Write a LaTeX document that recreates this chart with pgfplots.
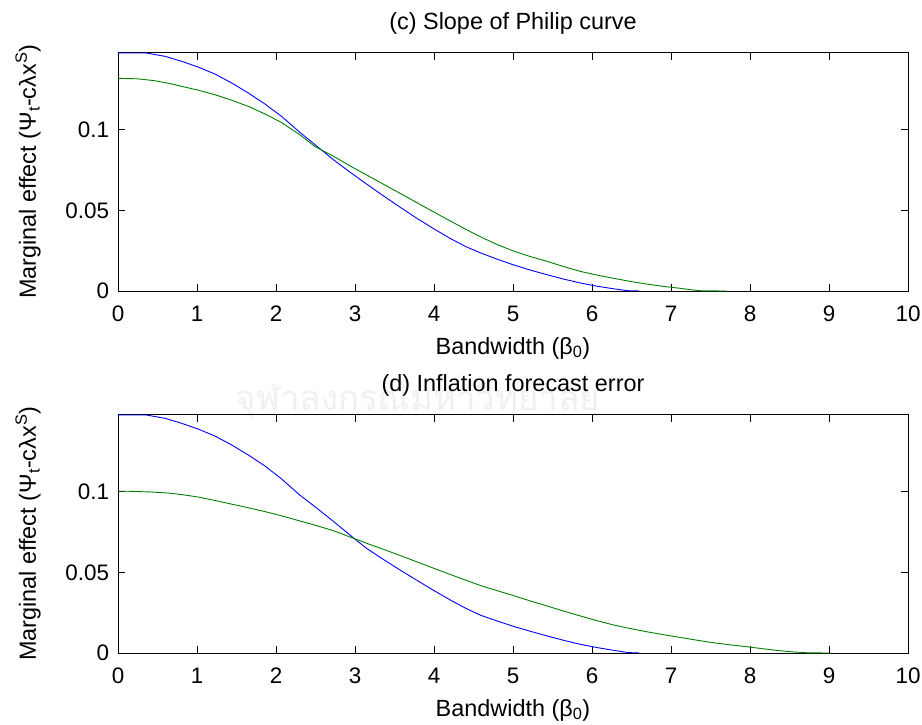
\documentclass[border=0pt]{standalone}
\usepackage{pgfplots}
\pgfplotsset{compat=1.18}
\usepackage{fontspec}
\setmainfont{Liberation Sans}
\newfontfamily\thaifont[Script=Thai]{Loma}
\definecolor{mblue}{RGB}{0,0,255}
\definecolor{mgreen}{RGB}{0,128,0}
\begin{document}
\fontsize{23.5}{28}\selectfont
\begin{tikzpicture}
\path[use as bounding box] (-118bp,-434bp) rectangle (804bp,291bp);
\node[text=black!6, font=\thaifont\fontsize{35}{40}\selectfont, anchor=base] at (300bp,-119bp) {จุฬาลงกรณ์มหาวิทยาลัย};
\pgfplotsset{
  myax/.style={
    scale only axis, width=790bp, height=238.3bp,
    xmin=0, xmax=10, ymin=0, ymax=0.1478,
    xtick={0,1,...,10}, xticklabels={0,1,2,3,4,5,6,7,8,9,10},
    ytick={0,0.05,0.1}, yticklabels={0,0.05,0.1},
    tick align=inside, xtick pos=both, ytick pos=both,
    major tick length=7bp,
    every tick/.style={black, line width=0.8bp},
    axis line style={line width=0.9bp},
    tick label style={font=\fontsize{22.5}{27}\selectfont},
    xticklabel style={anchor=base, yshift=-30bp},
    yticklabel style={anchor=east, xshift=-1bp},
    xlabel={Bandwidth (β\textsubscript{0})},
    xlabel style={at={(axis description cs:0.5,0)}, anchor=base, yshift=-63bp},
    ylabel={Marginal effect (Ψ\textsubscript{t}-cλx\textsuperscript{S})},
    ylabel style={at={(axis description cs:-0.1139,0.5)}, anchor=center},
    title style={at={(axis description cs:0.5,1)}, anchor=base, yshift=17bp},
  }
}
\begin{axis}[myax, at={(0,0)}, anchor=south west, title={(c) Slope of Philip curve}]
\addplot[mblue, line width=0.9bp] coordinates {
(0,0.1476) (0.36,0.1476) (0.6,0.1455) (0.81,0.1424) (1.02,0.1388) (1.23,0.1345) (1.44,0.1290) (1.65,0.1228) (1.86,0.1160) (2.07,0.1083) (2.30,0.0985) (2.50,0.0905) (2.73,0.0813) (2.94,0.0736) (3.15,0.0662) (3.36,0.0590) (3.57,0.0520) (3.78,0.0452) (3.99,0.0388) (4.22,0.0322) (4.40,0.0276) (4.58,0.0238) (4.79,0.0199) (5.0,0.0163) (5.21,0.0131) (5.43,0.0101) (5.64,0.0074) (5.85,0.0050) (6.06,0.0030) (6.27,0.0014) (6.45,0.0002) (6.6,0)
};
\addplot[mgreen, line width=0.9bp] coordinates {
(0,0.1319) (0.25,0.1316) (0.47,0.1304) (0.64,0.1288) (0.81,0.1269) (1.02,0.1245) (1.23,0.1217) (1.44,0.1183) (1.65,0.1145) (1.86,0.1098) (2.07,0.1045) (2.30,0.0970) (2.49,0.0897) (2.73,0.0835) (2.94,0.0775) (3.15,0.0719) (3.36,0.0662) (3.57,0.0606) (3.78,0.0549) (3.99,0.0492) (4.2,0.0436) (4.4,0.0383) (4.58,0.0338) (4.79,0.0290) (5.0,0.0249) (5.21,0.0215) (5.43,0.0184) (5.64,0.0152) (5.85,0.0122) (6.06,0.0099) (6.27,0.0079) (6.48,0.0060) (6.69,0.0043) (6.9,0.0029) (7.11,0.0017) (7.25,0.0008) (7.39,0.0001) (7.7,0)
};
\end{axis}
\begin{axis}[myax, at={(0,-362bp)}, anchor=south west, title={(d) Inflation forecast error}]
\addplot[mblue, line width=0.9bp] coordinates {
(0,0.1476) (0.36,0.1476) (0.6,0.1455) (0.81,0.1424) (1.02,0.1388) (1.23,0.1345) (1.44,0.1290) (1.65,0.1228) (1.86,0.1160) (2.07,0.1080) (2.30,0.0980) (2.50,0.0905) (2.73,0.0815) (3.0,0.0706) (3.15,0.0648) (3.36,0.0580) (3.57,0.0515) (3.78,0.0452) (3.99,0.0390) (4.22,0.0325) (4.40,0.0278) (4.58,0.0236) (4.79,0.0200) (5.0,0.0166) (5.21,0.0136) (5.43,0.0106) (5.64,0.0079) (5.85,0.0054) (6.06,0.0034) (6.27,0.0017) (6.45,0.0003) (6.6,0)
};
\addplot[mgreen, line width=0.9bp] coordinates {
(0,0.1003) (0.14,0.1003) (0.40,0.0999) (0.64,0.0992) (0.83,0.0981) (1.02,0.0967) (1.23,0.0946) (1.44,0.0923) (1.65,0.0901) (1.86,0.0877) (2.07,0.0851) (2.28,0.0822) (2.50,0.0792) (2.73,0.0758) (3.0,0.0708) (3.15,0.0680) (3.36,0.0643) (3.57,0.0605) (3.78,0.0566) (3.99,0.0527) (4.2,0.0488) (4.4,0.0452) (4.58,0.0420) (4.79,0.0388) (5.0,0.0357) (5.21,0.0324) (5.43,0.0292) (5.64,0.0260) (5.85,0.0230) (6.06,0.0201) (6.27,0.0174) (6.48,0.0152) (6.69,0.0132) (6.9,0.0114) (7.11,0.0097) (7.32,0.0080) (7.53,0.0064) (7.74,0.0051) (7.96,0.0039) (8.17,0.0026) (8.38,0.0014) (8.56,0.0006) (8.74,0.0001) (9.0,0)
};
\end{axis}
\end{tikzpicture}
\end{document}
